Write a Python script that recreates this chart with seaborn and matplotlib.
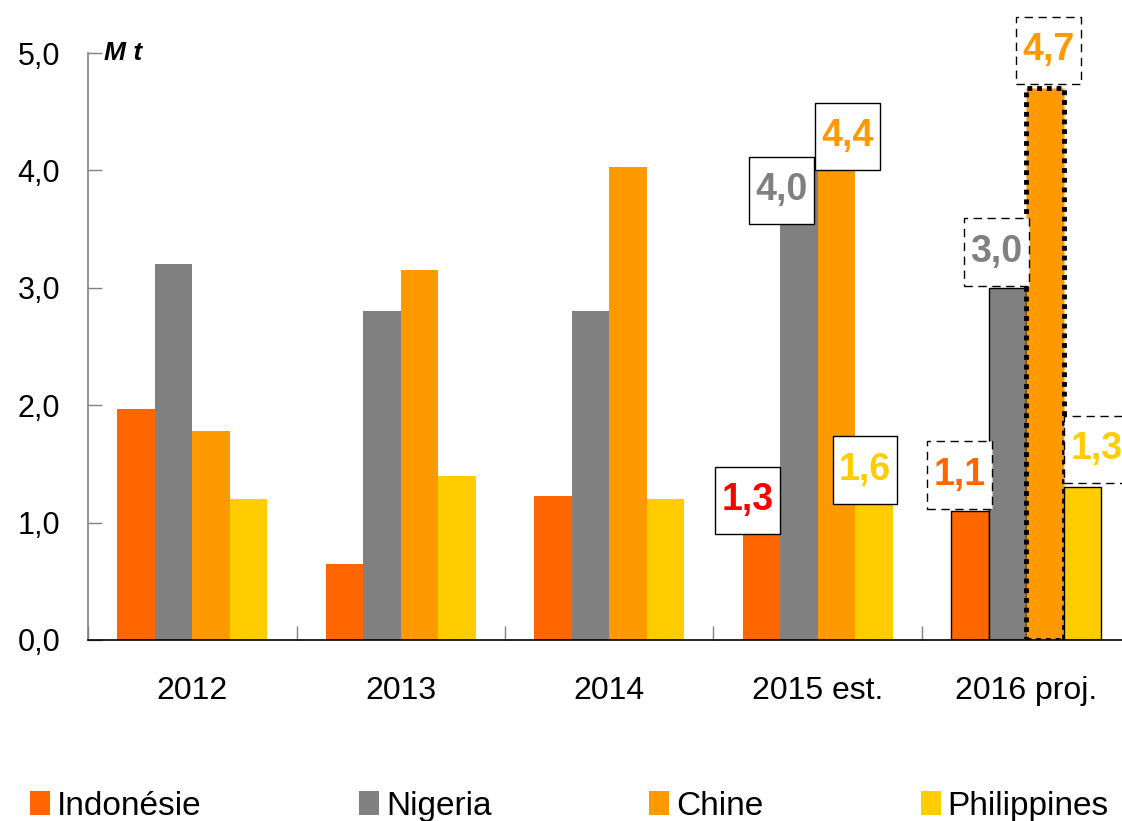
import matplotlib

matplotlib.use("Agg")
import matplotlib.pyplot as plt
import pandas as pd
import seaborn as sns
from matplotlib.path import Path

years = ["2012", "2013", "2014", "2015 est.", "2016 proj."]
countries = ["Indonésie", "Nigeria", "Chine", "Philippines"]
indonesie = [1.97, 0.65, 1.23, 1.3, 1.1]
nigeria = [3.2, 2.8, 2.8, 4.0, 3.0]
chine = [1.78, 3.15, 4.03, 4.4, 4.7]
philippines = [1.2, 1.4, 1.2, 1.6, 1.3]
y_ticks = [0, 1, 2, 3, 4, 5]
y_tick_labels = ["0,0", "1,0", "2,0", "3,0", "4,0", "5,0"]
unit = "M t"

colors = ["#FF6600", "#808080", "#FF9900", "#FFCC00"]

# value boxes: (country, year) -> label colour and offset of the box centre (pixels)
label_style = {
    ("Indonésie", "2015 est."): ("#FF0000", -14, -13),
    ("Nigeria", "2015 est."): ("#808080", -17, -20),
    ("Chine", "2015 est."): ("#FF9900", 11, -13),
    ("Philippines", "2015 est."): ("#FFCC00", -9, -18),
    ("Indonésie", "2016 proj."): ("#FF6600", -10, 36),
    ("Nigeria", "2016 proj."): ("#808080", -11, 36),
    ("Chine", "2016 proj."): ("#FF9900", 4, 38),
    ("Philippines", "2016 proj."): ("#FFCC00", 14, 38),
}


def label_box(x0, y0, width, height, mutation_size):
    # rectangle with narrow side padding and tall top/bottom padding
    px = 0.17 * mutation_size
    py = 0.42 * mutation_size
    x0, x1 = x0 - px, x0 + width + px
    y0, y1 = y0 - py, y0 + height + py
    return Path([(x0, y0), (x1, y0), (x1, y1), (x0, y1), (x0, y0)], closed=True)


sns.set_theme(style="white")
plt.rcParams["font.family"] = ["Liberation Sans", "DejaVu Sans"]
plt.rcParams["text.color"] = "black"
plt.rcParams["xtick.labelcolor"] = "black"
plt.rcParams["ytick.labelcolor"] = "black"

df = pd.DataFrame(
    {
        "year": years * 4,
        "country": [c for c in countries for _ in years],
        "value": indonesie + nigeria + chine + philippines,
    }
)

fig = plt.figure(figsize=(11.22, 8.21), dpi=100)
ax = fig.add_axes([0.0785, 0.2205, 0.9215, 0.7149])

sns.barplot(
    data=df,
    x="year",
    y="value",
    hue="country",
    hue_order=countries,
    order=years,
    palette=colors,
    saturation=1,
    width=0.72,
    linewidth=0,
    ax=ax,
)

# projected year gets outlined bars
for ci, cont in enumerate(ax.containers):
    p = cont.patches[4]
    p.set_edgecolor("black")
    if countries[ci] == "Chine":
        p.set_linewidth(3.5)
        p.set_linestyle((0, (1, 1)))
    else:
        p.set_linewidth(1)

# value boxes
for ci, cont in enumerate(ax.containers):
    for yi, p in enumerate(cont.patches):
        key = (countries[ci], years[yi])
        if key not in label_style:
            continue
        col, dx, dy = label_style[key]
        v = p.get_height()
        dashed = years[yi] == "2016 proj."
        ax.annotate(
            f"{v:.1f}".replace(".", ","),
            xy=(p.get_x() + p.get_width() / 2, v),
            xytext=(dx, dy),
            textcoords="offset pixels",
            ha="center",
            va="center",
            fontsize=27,
            fontweight="bold",
            color=col,
            annotation_clip=False,
            bbox=dict(
                boxstyle=label_box,
                fc="white",
                ec="black",
                lw=1,
                ls=(0, (6, 4)) if dashed else "-",
            ),
            zorder=5,
        )

ax.set_xlabel("")
ax.set_ylabel("")

ax.set_yticks(y_ticks)
ax.set_yticklabels(y_tick_labels)
ax.tick_params(axis="y", direction="in", length=10, width=1, color="#808080",
               pad=20, labelsize=22, left=True)

ax.set_xticks([i - 0.5 for i in range(len(years) + 1)])
ax.set_xticklabels([])
ax.set_xticks(range(len(years)), minor=True)
ax.set_xticklabels(years, minor=True)
ax.tick_params(axis="x", which="major", direction="in", length=10, width=1,
               color="#808080", bottom=True)
ax.tick_params(axis="x", which="minor", length=0, pad=26, labelsize=23)

ax.set_xlim(-0.5, 4.46)
ax.set_ylim(0, 5)

for side in ["top", "right"]:
    ax.spines[side].set_visible(False)
ax.spines["left"].set_color("#808080")
ax.spines["left"].set_linewidth(1.2)
ax.spines["bottom"].set_color("black")
ax.spines["bottom"].set_linewidth(1.2)

ax.text(0.015, 1.0, unit, transform=ax.transAxes, ha="left", va="center",
        fontsize=19, fontweight="bold", fontstyle="italic")

handles, labels = ax.get_legend_handles_labels()
ax.legend_.remove()
fig.legend(
    handles,
    labels,
    loc="center left",
    bbox_to_anchor=(0.027, 0.018),
    ncol=4,
    frameon=False,
    fontsize=24,
    handlelength=0.6,
    handleheight=0.7,
    handletextpad=0.21,
    columnspacing=4.72,
    borderpad=0,
    borderaxespad=0,
)

fig.savefig("out.png", dpi=100)
